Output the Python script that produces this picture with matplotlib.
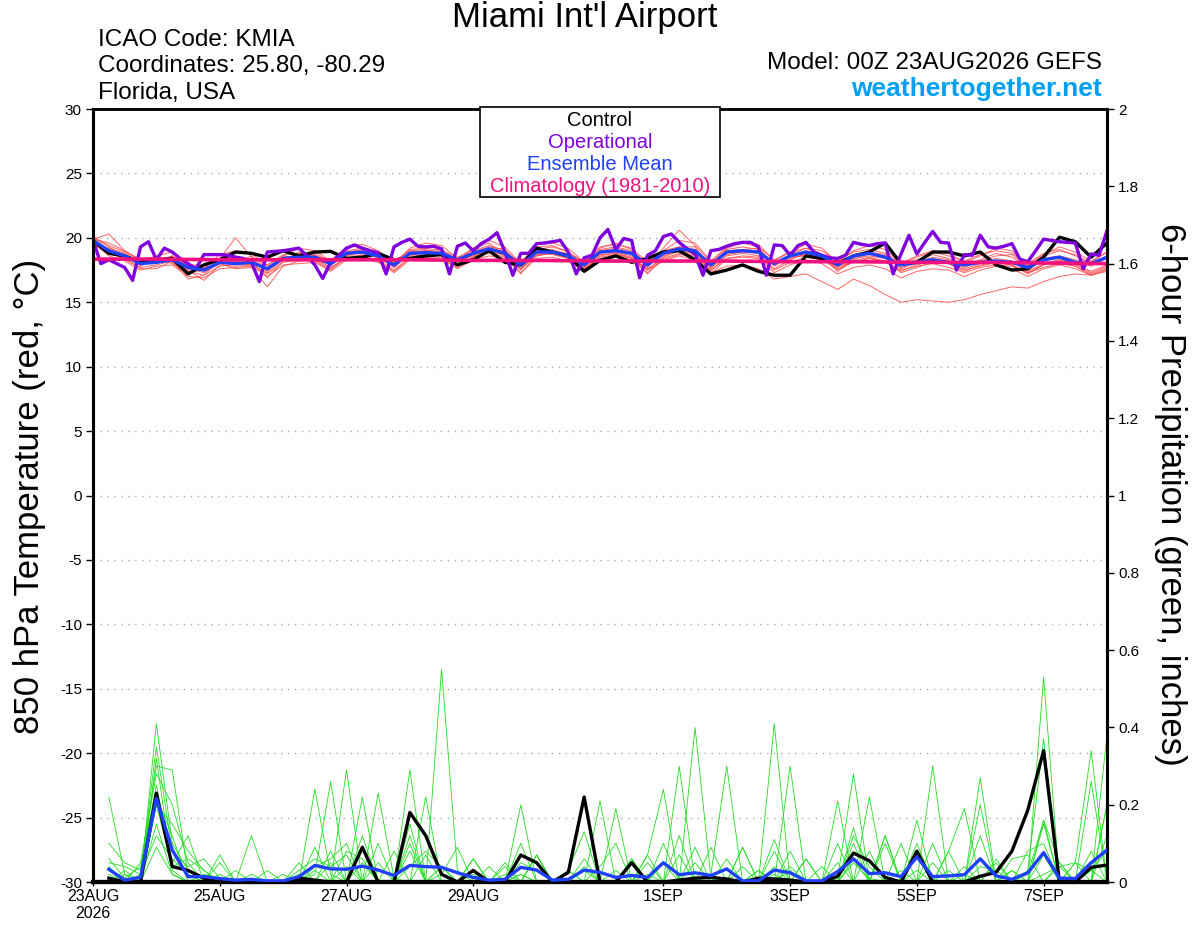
import numpy as np
import matplotlib
matplotlib.use('Agg')
import matplotlib.pyplot as plt
from matplotlib.patches import Rectangle
from matplotlib.ticker import FuncFormatter

plt.rcParams['font.family'] = ['Liberation Sans', 'DejaVu Sans']
plt.rcParams['axes.unicode_minus'] = False

# 6-hourly steps from 00Z 23AUG2026, x in days
tick_days = [0, 2, 4, 6, 9, 11, 13, 15]
tick_labels = ['23AUG\n2026', '25AUG', '27AUG', '29AUG', '1SEP', '3SEP', '5SEP', '7SEP']

ctrl_t = [19.8, 18.8, 18.6, 18.1, 18.3, 18.4, 17.2, 17.9, 18.3, 18.9, 18.8, 18.5, 19.0, 18.6, 18.9, 18.95,
          18.4, 18.5, 18.8, 18.3, 18.4, 18.6, 18.7, 17.9, 18.3, 19.0, 18.1, 17.9, 19.2, 18.9, 18.6, 17.4,
          18.25, 18.6, 18.1, 18.4, 18.9, 19.0, 18.3, 17.2, 17.5, 17.9, 17.4, 17.1, 17.1, 18.6, 18.4, 18.0,
          18.6, 18.9, 19.6, 18.0, 18.1, 18.9, 18.9, 18.6, 18.9, 17.9, 17.5, 17.6, 18.5, 20.05, 19.7, 18.5, 19.6]

mean_t = [19.8, 19.0, 18.6, 18.0, 18.1, 18.3, 17.7, 17.5, 18.1, 18.0, 18.1, 17.6, 18.4, 18.5, 18.5, 18.0,
          18.8, 18.9, 18.6, 17.9, 18.8, 18.85, 18.8, 18.3, 18.8, 19.15, 18.8, 17.9, 18.9, 18.9, 18.6, 17.9,
          18.9, 19.0, 18.8, 17.9, 18.8, 19.15, 19.0, 17.9, 18.9, 19.0, 18.9, 18.0, 18.6, 18.9, 18.6, 17.9,
          18.6, 18.8, 18.5, 17.9, 18.1, 18.3, 18.1, 17.9, 18.1, 18.2, 18.1, 17.7, 18.3, 18.5, 18.1, 18.0, 18.5]

# operational run is 3-hourly
oper_t = [19.8, 18.0, 18.3, 18.0, 17.7, 16.7, 19.3, 19.7, 18.3, 19.2, 18.9, 18.4, 18.0, 17.6, 18.7, 18.7,
          18.7, 18.65, 18.5, 18.4, 18.1, 16.6, 18.9, 18.95, 19.0, 19.1, 19.2, 18.6, 17.9, 16.85, 18.1, 18.6,
          19.2, 19.45, 19.2, 19.0, 18.85, 17.2, 19.3, 19.65, 19.9, 19.35, 19.3, 19.35, 19.15, 17.2, 19.35, 19.6,
          19.0, 19.55, 19.9, 20.4, 18.9, 17.1, 18.8, 18.8, 19.55, 19.6, 19.7, 19.8, 18.9, 17.2, 18.45, 18.65,
          20.0, 20.65, 19.1, 19.95, 19.8, 16.9, 18.65, 19.0, 20.1, 20.3, 19.65, 19.15, 18.75, 17.1, 19.0, 19.1,
          19.35, 19.55, 19.65, 19.65, 19.3, 17.1, 19.45, 19.4, 18.65, 19.4, 19.65, 18.9, 18.65, 18.45, 18.4, 18.65,
          19.65, 19.5, 19.4, 19.55, 19.6, 17.2, 18.75, 20.2, 18.75, 19.65, 20.5, 19.65, 19.6, 17.5, 18.7, 18.65,
          20.2, 19.3, 19.2, 19.35, 19.55, 18.35, 18.15, 19.0, 19.9, 19.8, 19.7, 19.65, 19.6, 17.6, 18.75, 18.65,
          20.55]

# climatology, one value per day
clim_t = [18.35, 18.35, 18.3, 18.3, 18.3, 18.3, 18.25, 18.25, 18.2, 18.2, 18.2, 18.15, 18.15, 18.1, 18.1, 18.05, 18.0]

mem_t = [
    [19.9, 20.3, 19.0, 18.2, 18.6, 18.9, 17.9, 17.6, 18.7, 19.0, 18.8, 17.8, 18.6, 19.2, 19.0, 18.2, 19.3, 19.5, 19.0, 18.0, 19.2, 19.6, 19.4, 18.4, 19.2, 19.8, 19.3, 18.0, 19.5, 19.6, 19.2, 18.1, 19.3, 19.5, 19.2, 18.1, 19.0, 19.8, 19.6, 18.2, 19.3, 19.7, 19.5, 18.2, 18.9, 19.5, 19.2, 18.1, 19.0, 19.4, 19.1, 18.0, 18.6, 19.0, 18.8, 18.1, 18.6, 19.2, 19.0, 17.9, 18.7, 19.3, 18.9, 18.2, 18.9],
    [19.6, 18.6, 18.2, 17.5, 17.8, 17.9, 17.0, 16.9, 17.6, 17.7, 17.8, 17.0, 17.9, 18.0, 18.1, 17.4, 18.3, 18.5, 18.2, 17.3, 18.3, 18.4, 18.5, 17.6, 18.3, 18.6, 18.4, 17.3, 18.4, 18.5, 18.2, 17.4, 18.4, 18.6, 18.3, 17.3, 18.3, 18.7, 18.6, 17.2, 18.4, 18.5, 18.4, 17.3, 17.9, 18.3, 18.0, 17.2, 17.7, 17.9, 17.6, 16.9, 17.4, 17.6, 17.5, 17.0, 17.5, 17.8, 17.6, 17.0, 17.6, 17.9, 17.6, 17.1, 17.5],
    [19.7, 19.1, 18.7, 17.9, 18.2, 18.4, 17.6, 17.3, 18.0, 18.2, 18.3, 17.4, 18.5, 18.6, 18.7, 17.8, 18.9, 19.1, 18.8, 17.7, 18.9, 19.0, 18.9, 17.9, 18.8, 19.2, 18.9, 17.6, 18.9, 19.0, 18.5, 17.5, 18.6, 18.8, 18.4, 17.5, 18.2, 18.6, 18.3, 17.3, 17.8, 17.9, 17.6, 16.8, 17.0, 17.2, 16.6, 16.0, 16.8, 16.3, 15.6, 15.0, 15.2, 15.1, 15.0, 15.2, 15.6, 15.9, 16.2, 16.1, 16.6, 17.0, 17.2, 17.1, 17.4],
    [20.1, 19.4, 18.9, 18.3, 18.0, 18.6, 17.4, 17.1, 18.3, 18.6, 18.2, 16.9, 18.2, 18.9, 18.6, 17.9, 18.6, 19.0, 18.9, 18.2, 19.0, 19.1, 18.6, 18.1, 19.2, 19.6, 18.6, 17.6, 19.1, 19.3, 18.9, 17.7, 19.1, 19.3, 19.0, 17.8, 18.9, 19.3, 19.3, 17.6, 19.0, 19.1, 19.2, 18.0, 18.7, 19.2, 18.7, 17.5, 18.3, 18.8, 18.6, 17.6, 18.1, 18.5, 18.3, 17.7, 18.2, 18.6, 18.7, 17.8, 18.6, 19.0, 18.7, 17.9, 18.6],
    [19.5, 18.8, 18.4, 18.0, 18.4, 18.0, 17.2, 17.7, 18.0, 17.6, 17.7, 16.2, 17.8, 18.2, 18.3, 17.6, 18.6, 18.6, 18.3, 17.5, 18.5, 18.7, 18.9, 17.8, 18.5, 18.9, 18.7, 17.2, 18.7, 18.8, 18.6, 17.6, 18.7, 18.8, 18.5, 17.2, 18.5, 19.0, 18.8, 17.7, 18.6, 18.8, 18.6, 17.6, 18.3, 18.8, 18.5, 17.4, 18.2, 18.5, 18.2, 17.3, 17.7, 18.1, 18.0, 17.4, 17.9, 18.1, 17.9, 17.2, 17.9, 18.3, 18.0, 17.3, 17.8],
    [19.9, 19.6, 19.0, 18.3, 18.3, 18.4, 17.9, 17.9, 18.4, 20.0, 18.5, 17.9, 18.7, 18.8, 18.6, 18.3, 19.0, 19.2, 18.7, 17.9, 19.1, 19.2, 19.0, 18.5, 19.0, 19.4, 19.0, 18.0, 19.3, 19.4, 18.9, 18.0, 19.2, 19.6, 19.1, 17.9, 19.2, 20.6, 19.4, 18.1, 19.2, 19.6, 19.3, 18.3, 18.9, 19.2, 19.0, 18.2, 18.9, 19.1, 18.8, 18.0, 18.5, 18.9, 18.6, 18.2, 18.7, 19.0, 18.8, 18.0, 18.8, 19.1, 18.6, 18.1, 18.9],
    [19.8, 18.9, 18.5, 17.6, 17.6, 18.2, 17.5, 16.7, 17.9, 17.8, 17.9, 17.3, 18.3, 18.3, 18.4, 17.7, 18.4, 18.7, 18.5, 17.7, 18.7, 18.6, 18.7, 18.0, 18.7, 19.0, 18.6, 17.5, 18.8, 18.7, 18.4, 17.6, 18.8, 18.9, 18.6, 17.5, 18.6, 19.0, 18.8, 17.4, 18.7, 18.9, 18.8, 17.8, 18.5, 18.6, 18.4, 17.7, 18.4, 18.6, 18.4, 17.7, 18.0, 18.3, 18.1, 17.6, 18.0, 18.4, 18.2, 17.4, 18.0, 18.3, 17.9, 17.4, 17.9],
    [19.6, 19.2, 18.8, 18.1, 18.2, 18.6, 17.8, 17.4, 18.2, 18.3, 18.4, 17.5, 18.6, 18.4, 18.8, 18.1, 18.9, 19.0, 18.4, 17.8, 18.9, 19.0, 19.1, 18.2, 18.9, 19.3, 19.1, 17.8, 19.0, 19.1, 18.7, 17.8, 19.0, 19.2, 18.9, 17.7, 19.0, 19.3, 19.1, 17.9, 19.1, 19.3, 19.1, 17.9, 18.6, 19.0, 18.7, 17.9, 18.7, 18.9, 18.7, 17.9, 18.3, 18.7, 18.4, 17.9, 18.3, 18.8, 18.5, 17.7, 18.4, 18.6, 18.3, 17.8, 18.4],
    [20.0, 19.3, 18.6, 17.8, 18.5, 18.1, 17.3, 17.6, 18.1, 18.1, 18.6, 17.6, 18.4, 18.6, 18.2, 18.0, 18.7, 18.8, 18.8, 18.1, 18.6, 18.9, 18.6, 18.3, 18.6, 19.1, 18.7, 17.9, 18.6, 18.9, 18.8, 18.2, 18.9, 19.1, 18.7, 18.1, 18.7, 19.1, 19.0, 18.0, 18.9, 19.1, 18.9, 18.1, 18.4, 18.7, 18.3, 17.8, 18.1, 18.4, 18.1, 17.5, 17.8, 18.0, 17.7, 17.3, 17.7, 17.9, 17.8, 17.3, 17.9, 18.2, 17.8, 17.2, 17.7],
    [19.7, 19.0, 18.3, 17.7, 17.9, 18.2, 16.8, 17.1, 17.8, 18.0, 17.9, 17.2, 18.1, 18.3, 18.2, 17.5, 18.5, 18.4, 18.1, 17.4, 18.4, 18.5, 18.3, 17.7, 18.6, 18.8, 18.5, 17.6, 18.6, 18.8, 18.4, 17.5, 18.5, 18.7, 18.4, 17.6, 18.4, 18.8, 18.7, 17.5, 18.4, 18.6, 18.5, 17.5, 18.1, 18.5, 18.3, 17.6, 18.1, 18.4, 18.2, 17.4, 17.9, 18.2, 18.0, 17.5, 17.8, 18.1, 17.9, 17.3, 17.7, 18.0, 17.8, 17.1, 17.6],
]

# 6-hour precipitation (inches), steps 1..64
ctrl_p = [0.01, 0.0, 0.0, 0.23, 0.04, 0.03, 0.01, 0.0, 0.0, 0.0, 0.0, 0.0, 0.01, 0.005, 0.0, 0.0,
          0.09, 0.0, 0.0, 0.18, 0.12, 0.02, 0.0, 0.03, 0.0, 0.0, 0.07, 0.05, 0.0, 0.025, 0.22, 0.0,
          0.0, 0.05, 0.0, 0.0, 0.005, 0.01, 0.012, 0.008, 0.0, 0.01, 0.008, 0.005, 0.0, 0.0, 0.015, 0.075,
          0.055, 0.012, 0.0, 0.08, 0.0, 0.0, 0.0, 0.015, 0.025, 0.08, 0.186, 0.34, 0.0, 0.0, 0.038, 0.044]

mean_p = [0.033, 0.005, 0.012, 0.216, 0.083, 0.014, 0.014, 0.009, 0.005, 0.007, 0.003, 0.003, 0.014, 0.043, 0.034, 0.033,
          0.041, 0.031, 0.017, 0.043, 0.04, 0.038, 0.024, 0.012, 0.005, 0.007, 0.038, 0.031, 0.005, 0.007, 0.031, 0.025,
          0.012, 0.017, 0.012, 0.05, 0.019, 0.024, 0.017, 0.034, 0.003, 0.003, 0.031, 0.024, 0.003, 0.003, 0.027, 0.06,
          0.022, 0.024, 0.014, 0.065, 0.014, 0.016, 0.019, 0.06, 0.016, 0.007, 0.024, 0.076, 0.01, 0.009, 0.05, 0.083]

mem_p = [
    [0.22, 0.02, 0.00, 0.41, 0.10, 0.03, 0.01, 0.00, 0.00, 0.00, 0.00, 0.00, 0.00, 0.24, 0.02, 0.00, 0.05, 0.00, 0.00, 0.00, 0.00, 0.55, 0.03, 0.00, 0.00, 0.00, 0.02, 0.00, 0.00, 0.00, 0.00, 0.21, 0.00, 0.00, 0.02, 0.00, 0.00, 0.40, 0.01, 0.00, 0.00, 0.00, 0.02, 0.00, 0.00, 0.00, 0.00, 0.05, 0.01, 0.00, 0.00, 0.10, 0.00, 0.00, 0.02, 0.00, 0.00, 0.00, 0.00, 0.53, 0.00, 0.00, 0.00, 0.38],
    [0.10, 0.05, 0.03, 0.30, 0.29, 0.02, 0.00, 0.00, 0.00, 0.12, 0.00, 0.00, 0.00, 0.02, 0.26, 0.00, 0.00, 0.23, 0.01, 0.00, 0.00, 0.02, 0.09, 0.00, 0.00, 0.00, 0.20, 0.00, 0.00, 0.00, 0.03, 0.00, 0.19, 0.00, 0.00, 0.00, 0.00, 0.00, 0.02, 0.30, 0.00, 0.00, 0.41, 0.00, 0.00, 0.00, 0.01, 0.28, 0.00, 0.00, 0.03, 0.00, 0.30, 0.00, 0.00, 0.00, 0.00, 0.00, 0.03, 0.37, 0.00, 0.00, 0.26, 0.00],
    [0.06, 0.01, 0.04, 0.25, 0.05, 0.12, 0.00, 0.07, 0.00, 0.00, 0.03, 0.00, 0.00, 0.00, 0.00, 0.29, 0.00, 0.00, 0.00, 0.29, 0.00, 0.00, 0.00, 0.06, 0.00, 0.05, 0.00, 0.00, 0.00, 0.03, 0.13, 0.00, 0.00, 0.00, 0.07, 0.24, 0.00, 0.00, 0.00, 0.00, 0.09, 0.00, 0.00, 0.30, 0.00, 0.00, 0.00, 0.00, 0.22, 0.00, 0.00, 0.00, 0.10, 0.00, 0.00, 0.27, 0.00, 0.00, 0.02, 0.16, 0.05, 0.00, 0.00, 0.20],
    [0.03, 0.00, 0.02, 0.35, 0.08, 0.04, 0.06, 0.01, 0.00, 0.00, 0.00, 0.00, 0.02, 0.00, 0.00, 0.00, 0.22, 0.00, 0.08, 0.00, 0.22, 0.00, 0.00, 0.00, 0.04, 0.00, 0.00, 0.07, 0.00, 0.00, 0.00, 0.00, 0.00, 0.06, 0.00, 0.00, 0.30, 0.00, 0.00, 0.00, 0.00, 0.03, 0.00, 0.00, 0.06, 0.00, 0.21, 0.00, 0.00, 0.12, 0.00, 0.00, 0.00, 0.08, 0.19, 0.00, 0.00, 0.06, 0.07, 0.00, 0.00, 0.05, 0.34, 0.00],
    [0.00, 0.03, 0.00, 0.20, 0.04, 0.06, 0.03, 0.00, 0.00, 0.02, 0.00, 0.00, 0.00, 0.09, 0.00, 0.04, 0.00, 0.00, 0.00, 0.10, 0.00, 0.00, 0.00, 0.00, 0.00, 0.02, 0.00, 0.07, 0.00, 0.00, 0.00, 0.00, 0.00, 0.00, 0.00, 0.00, 0.00, 0.09, 0.00, 0.00, 0.00, 0.00, 0.00, 0.03, 0.00, 0.00, 0.00, 0.12, 0.04, 0.00, 0.00, 0.00, 0.00, 0.03, 0.00, 0.00, 0.00, 0.00, 0.00, 0.00, 0.00, 0.00, 0.00, 0.00],
    [0.04, 0.00, 0.05, 0.28, 0.20, 0.05, 0.00, 0.00, 0.00, 0.00, 0.00, 0.00, 0.03, 0.06, 0.04, 0.07, 0.00, 0.00, 0.00, 0.04, 0.08, 0.04, 0.00, 0.03, 0.00, 0.00, 0.05, 0.03, 0.00, 0.00, 0.00, 0.04, 0.10, 0.00, 0.00, 0.00, 0.00, 0.00, 0.00, 0.00, 0.04, 0.00, 0.08, 0.00, 0.00, 0.00, 0.00, 0.10, 0.00, 0.00, 0.00, 0.03, 0.00, 0.00, 0.00, 0.00, 0.00, 0.03, 0.00, 0.02, 0.04, 0.05, 0.03, 0.08],
    [0.00, 0.02, 0.00, 0.15, 0.02, 0.00, 0.00, 0.02, 0.00, 0.00, 0.00, 0.00, 0.05, 0.00, 0.08, 0.00, 0.12, 0.00, 0.00, 0.08, 0.00, 0.04, 0.00, 0.02, 0.00, 0.00, 0.00, 0.00, 0.00, 0.00, 0.04, 0.00, 0.00, 0.00, 0.05, 0.00, 0.07, 0.00, 0.00, 0.00, 0.00, 0.00, 0.11, 0.00, 0.00, 0.00, 0.05, 0.00, 0.00, 0.10, 0.00, 0.00, 0.00, 0.00, 0.00, 0.04, 0.03, 0.00, 0.00, 0.15, 0.00, 0.00, 0.03, 0.00],
    [0.01, 0.00, 0.00, 0.32, 0.03, 0.00, 0.02, 0.01, 0.00, 0.00, 0.00, 0.00, 0.00, 0.04, 0.06, 0.10, 0.00, 0.05, 0.00, 0.00, 0.00, 0.00, 0.00, 0.00, 0.00, 0.00, 0.02, 0.00, 0.00, 0.03, 0.00, 0.00, 0.00, 0.00, 0.00, 0.10, 0.00, 0.00, 0.00, 0.00, 0.00, 0.00, 0.00, 0.08, 0.00, 0.00, 0.00, 0.14, 0.00, 0.00, 0.00, 0.16, 0.00, 0.00, 0.00, 0.20, 0.00, 0.00, 0.00, 0.16, 0.00, 0.00, 0.00, 0.12],
    [0.02, 0.00, 0.01, 0.22, 0.12, 0.00, 0.00, 0.05, 0.00, 0.00, 0.00, 0.00, 0.00, 0.00, 0.00, 0.00, 0.00, 0.00, 0.00, 0.15, 0.00, 0.00, 0.00, 0.00, 0.00, 0.00, 0.00, 0.07, 0.00, 0.00, 0.00, 0.00, 0.00, 0.06, 0.00, 0.00, 0.12, 0.00, 0.00, 0.06, 0.00, 0.00, 0.00, 0.00, 0.06, 0.00, 0.00, 0.00, 0.08, 0.00, 0.00, 0.00, 0.05, 0.00, 0.00, 0.00, 0.06, 0.00, 0.00, 0.00, 0.05, 0.00, 0.00, 0.00],
    [0.05, 0.04, 0.02, 0.12, 0.06, 0.02, 0.00, 0.00, 0.03, 0.00, 0.00, 0.02, 0.00, 0.00, 0.00, 0.00, 0.00, 0.10, 0.00, 0.00, 0.07, 0.00, 0.00, 0.00, 0.00, 0.04, 0.00, 0.00, 0.00, 0.00, 0.00, 0.00, 0.03, 0.00, 0.00, 0.00, 0.00, 0.05, 0.00, 0.00, 0.00, 0.00, 0.04, 0.00, 0.00, 0.00, 0.10, 0.00, 0.00, 0.12, 0.00, 0.00, 0.00, 0.00, 0.04, 0.00, 0.00, 0.00, 0.08, 0.10, 0.00, 0.00, 0.08, 0.00],
    [0.00, 0.00, 0.00, 0.20, 0.15, 0.08, 0.03, 0.00, 0.00, 0.00, 0.00, 0.00, 0.00, 0.00, 0.05, 0.00, 0.00, 0.00, 0.00, 0.12, 0.00, 0.04, 0.00, 0.00, 0.00, 0.00, 0.10, 0.00, 0.00, 0.00, 0.06, 0.00, 0.00, 0.00, 0.00, 0.05, 0.00, 0.00, 0.00, 0.00, 0.09, 0.00, 0.00, 0.04, 0.00, 0.00, 0.00, 0.06, 0.00, 0.00, 0.00, 0.08, 0.00, 0.00, 0.00, 0.12, 0.00, 0.03, 0.00, 0.07, 0.00, 0.05, 0.00, 0.00],
    [0.00, 0.01, 0.00, 0.09, 0.02, 0.00, 0.00, 0.00, 0.00, 0.00, 0.00, 0.00, 0.00, 0.03, 0.00, 0.08, 0.06, 0.00, 0.00, 0.00, 0.00, 0.00, 0.00, 0.06, 0.00, 0.00, 0.00, 0.00, 0.00, 0.03, 0.00, 0.00, 0.00, 0.00, 0.07, 0.00, 0.00, 0.00, 0.09, 0.00, 0.00, 0.03, 0.00, 0.00, 0.00, 0.04, 0.00, 0.00, 0.00, 0.00, 0.10, 0.00, 0.00, 0.08, 0.00, 0.00, 0.05, 0.00, 0.00, 0.00, 0.04, 0.00, 0.00, 0.20],
]

c_red = '#ff4a4a'
c_green = '#22dd22'
c_oper = '#7f00dd'
c_mean = '#2040ff'
c_clim = '#f0107f'

t_days = np.arange(len(ctrl_t)) * 0.25
op_days = np.arange(len(oper_t)) * 0.125
p_days = np.arange(1, len(ctrl_p) + 1) * 0.25
clim_days = np.arange(len(clim_t))

fig = plt.figure(figsize=(12, 9.27), dpi=100)
ax = fig.add_axes([0.0775, 0.0485, 0.845, 0.8339])
ax2 = ax.twinx()

for m in mem_t:
    ax.plot(t_days, m, color=c_red, lw=0.7, alpha=0.85, zorder=2)
ax.plot(t_days, ctrl_t, color='black', lw=2.4, zorder=4)
ax.plot(op_days, oper_t, color=c_oper, lw=2.4, zorder=5)
ax.plot(t_days, mean_t, color=c_mean, lw=2.4, zorder=6)
ax.plot(clim_days, clim_t, color=c_clim, lw=2.6, zorder=7)

for m in mem_p:
    ax2.plot(p_days, m, color=c_green, lw=0.6, zorder=2)
ax2.plot(p_days, ctrl_p, color='black', lw=2.4, zorder=4)
ax2.plot(p_days, mean_p, color=c_mean, lw=2.4, zorder=5)

ax.set_xlim(0, 16)
ax.set_ylim(-30, 30)
ax2.set_ylim(0, 2)
ax.set_yticks(np.arange(-30, 31, 5))
ax2.set_yticks(np.arange(0, 2.01, 0.2))
ax2.yaxis.set_major_formatter(FuncFormatter(lambda v, p: '%g' % round(v, 1)))
ax.set_xticks(tick_days)
ax.set_xticklabels(tick_labels)

for g in np.arange(-25, 30, 5):
    ax.axhline(g, color='#aaaaaa', lw=1, ls=(0, (1, 4)), zorder=1)

ax.tick_params(axis='y', direction='out', length=5, width=1, labelsize=11, pad=3)
ax2.tick_params(axis='y', direction='out', length=5, width=1, labelsize=11, pad=3)
ax.tick_params(axis='x', direction='out', length=3, width=1, labelsize=11.5, pad=2)

for a in (ax, ax2):
    a.spines['left'].set_linewidth(2.2)
    a.spines['right'].set_linewidth(2.2)
    a.spines['bottom'].set_linewidth(3)
    a.spines['top'].set_linewidth(1.8)

fig.text(30 / 1200, 1 - 496 / 927, '850 hPa Temperature (red, \u00b0C)', rotation=90,
         ha='center', va='center', fontsize=25)
fig.text(1170 / 1200, 1 - 494 / 927, '6-hour Precipitation (green, inches)', rotation=-90,
         ha='center', va='center', fontsize=25)

fig.text(585 / 1200, 1 - 18 / 927, "Miami Int'l Airport", ha='center', va='center', fontsize=25)
fig.text(0.082, 1 - 40 / 927, 'ICAO Code: KMIA', ha='left', va='center', fontsize=17.5)
fig.text(0.082, 1 - 66 / 927, 'Coordinates: 25.80, -80.29', ha='left', va='center', fontsize=17.5)
fig.text(0.082, 1 - 93 / 927, 'Florida, USA', ha='left', va='center', fontsize=17.5)
fig.text(1102 / 1200, 1 - 63 / 927, 'Model: 00Z 23AUG2026 GEFS', ha='right', va='center', fontsize=17.5)
fig.text(1102 / 1200, 1 - 89 / 927, 'weathertogether.net', ha='right', va='center', fontsize=19,
         fontweight='bold', color='#00a0f0')

# legend box
box = Rectangle((480 / 1200, 1 - 197 / 927), 240 / 1200, 90 / 927, transform=fig.transFigure,
                facecolor='white', edgecolor='black', lw=1.2, zorder=10)
fig.patches.append(box)
leg_items = [('Control', 'black'), ('Operational', c_oper),
             ('Ensemble Mean', c_mean), ('Climatology (1981-2010)', c_clim)]
for k, (txt, col) in enumerate(leg_items):
    fig.text(0.5, 1 - (121 + 21.7 * k) / 927, txt, ha='center', va='center',
             fontsize=14.5, color=col, zorder=11)

fig.savefig('out.png', dpi=100)
